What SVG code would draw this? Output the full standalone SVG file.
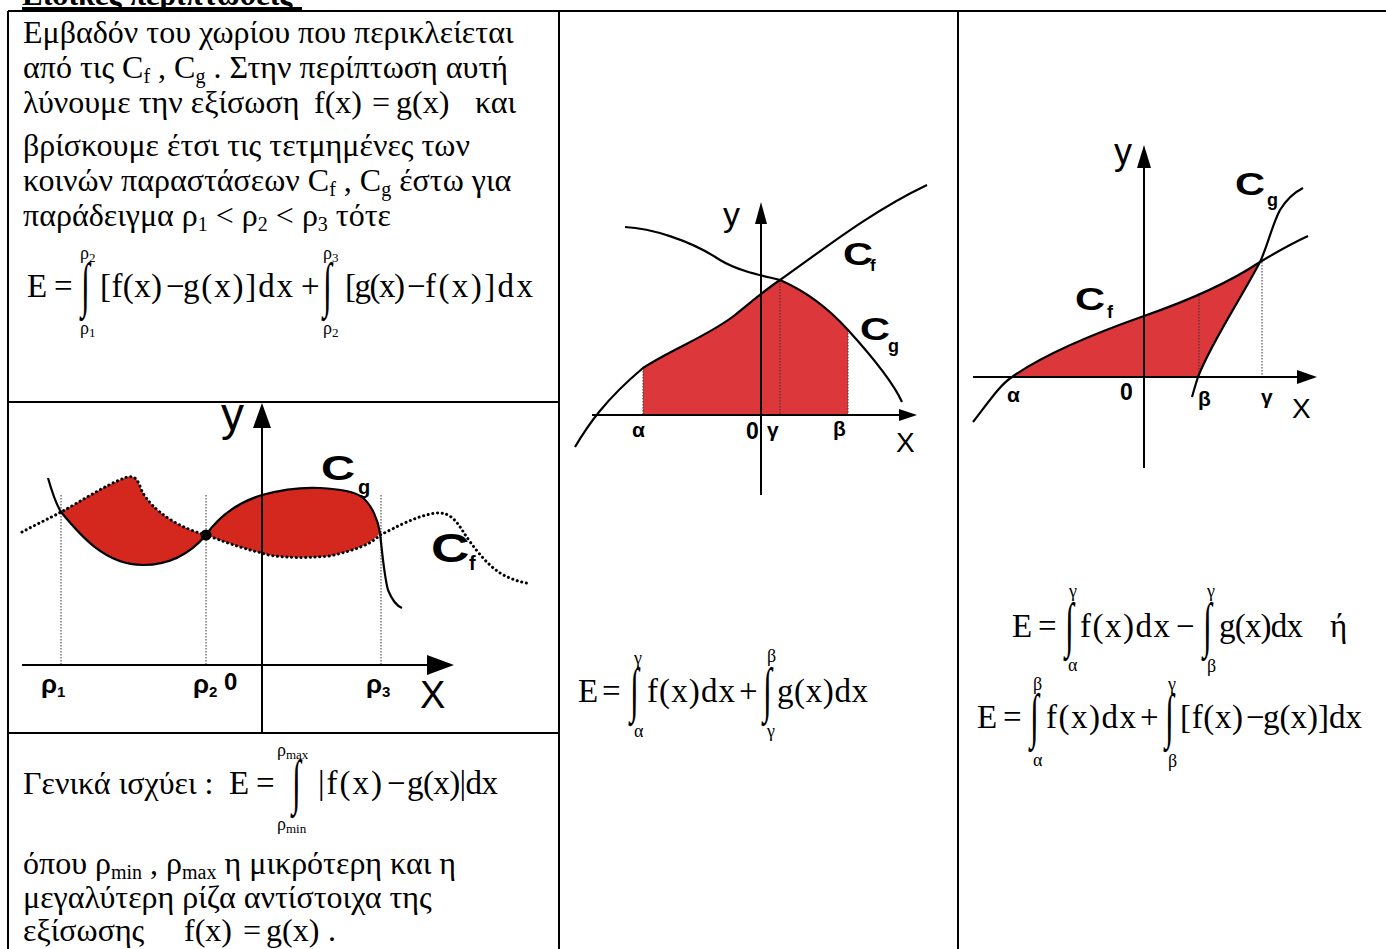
<svg xmlns="http://www.w3.org/2000/svg" width="1386" height="949" viewBox="0 0 1386 949">
<style>
.t{font-family:"Liberation Serif","Times New Roman",serif;font-size:32px;fill:#000}
.m{font-family:"Liberation Serif","Times New Roman",serif;font-size:33px;fill:#000}
.lim{font-family:"Liberation Serif","Times New Roman",serif;font-size:18px;fill:#000}
.int{font-family:"Liberation Serif","Times New Roman",serif;font-size:32px;fill:#000}
.sub{font-size:20px}
.title{font-family:"Liberation Serif","Times New Roman",serif;font-size:31px;font-weight:bold;fill:#000}
.grid{stroke:#000;stroke-width:2;fill:none}
.axis{stroke:#000;stroke-width:2;fill:none}
.curve{stroke:#000;stroke-width:2.2;fill:none}
.dots{stroke:#000;stroke-width:3;fill:none;stroke-dasharray:0.1 4.6;stroke-linecap:round}
.guide{stroke:#333;stroke-width:1;fill:none;stroke-dasharray:1.5 1.5}
.ax{font-family:"Liberation Sans",Arial,sans-serif;fill:#000}
.lb{font-family:"Liberation Sans",Arial,sans-serif;font-weight:bold;fill:#000}
.red1{fill:#d4281f}
.red2{fill:#dc383c}
</style>

<g id="title">
<text class="title" x="22" y="5">Ειδικές περιπτώσεις</text>
<rect x="22" y="7" width="280" height="3" fill="#000"/>
</g>

<g id="table" class="grid">
<line x1="8" y1="11" x2="1386" y2="11"/>
<line x1="8" y1="11" x2="8" y2="949"/>
<line x1="559" y1="11" x2="559" y2="949"/>
<line x1="958" y1="11" x2="958" y2="949"/>
<line x1="8" y1="402" x2="559" y2="402"/>
<line x1="8" y1="733" x2="559" y2="733"/>
</g>

<g id="text-top">
<text class="t" x="23" y="43">Εμβαδόν του χωρίου που περικλείεται</text>
<text class="t" x="23" y="78">από τις C<tspan class="sub" dy="5">f</tspan><tspan dy="-5"> , C</tspan><tspan class="sub" dy="5">g</tspan><tspan dy="-5"> . Στην περίπτωση αυτή</tspan></text>
<text class="t" x="23" y="113">λύνουμε την εξίσωση</text>
<text class="t" x="314" y="113">f(x)</text>
<text class="t" x="372" y="113">=</text>
<text class="t" x="396" y="113">g(x)</text>
<text class="t" x="475" y="113">και</text>
<text class="t" x="23" y="156">βρίσκουμε έτσι τις τετμημένες των</text>
<text class="t" x="23" y="191">κοινών παραστάσεων C<tspan class="sub" dy="5">f</tspan><tspan dy="-5"> , C</tspan><tspan class="sub" dy="5">g</tspan><tspan dy="-5"> έστω για</tspan></text>
<text class="t" x="23" y="226">παράδειγμα ρ<tspan class="sub" dy="5">1</tspan><tspan dy="-5"> &lt; ρ</tspan><tspan class="sub" dy="5">2</tspan><tspan dy="-5"> &lt; ρ</tspan><tspan class="sub" dy="5">3</tspan><tspan dy="-5"> τότε</tspan></text>
</g>

<g id="formula-top">
<text class="m" x="27" y="297">E</text>
<text class="m" x="54" y="297">=</text>
<text class="int" transform="translate(81,305) scale(1,1.9)">∫</text>
<text class="lim" x="80" y="259">ρ<tspan font-size="13" dy="3">2</tspan></text>
<text class="lim" x="80" y="334">ρ<tspan font-size="13" dy="3">1</tspan></text>
<text class="m" x="100" y="297" textLength="62">[f(x)</text>
<text class="m" x="166" y="297">−</text>
<text class="m" x="183" y="297" textLength="110">g(x)]dx</text>
<text class="m" x="301" y="297">+</text>
<text class="int" transform="translate(323,305) scale(1,1.9)">∫</text>
<text class="lim" x="323" y="259">ρ<tspan font-size="13" dy="3">3</tspan></text>
<text class="lim" x="323" y="334">ρ<tspan font-size="13" dy="3">2</tspan></text>
<text class="m" x="345" y="297" textLength="60">[g(x)</text>
<text class="m" x="407" y="297">−</text>
<text class="m" x="425" y="297" textLength="108">f(x)]dx</text>
</g>

<g id="graph-left">
<path class="red1" d="M61,512 C80,502 105,485 127,477 C131,476 134,477 136,479 C140,484 141,490 143,493 C147,500 155,510 171,520 C182,527 195,532 206,535 C195,548 175,565 143,565 C105,565 80,535 61,512 Z"/>
<path class="red1" d="M206,535 C215,522 230,505 262,495 C280,490 300,487 320,488 C340,489 355,492 362,497 C372,505 378,520 380,533 C370,545 355,550 330,556 C300,559 270,557 262,553 C240,548 220,540 206,535 Z"/>
<line class="guide" x1="61" y1="495" x2="61" y2="665"/>
<line class="guide" x1="206" y1="495" x2="206" y2="665"/>
<line class="guide" x1="381" y1="495" x2="381" y2="665"/>
<path class="curve" d="M48,478 C52,492 56,504 61,512 C80,535 105,565 143,565 C175,565 195,548 206,535 C215,522 230,505 262,495 C280,490 300,487 320,488 C340,489 355,492 362,497 C372,505 378,520 380,533 C382,550 384,575 388,590 C392,600 397,606 402,608"/>
<path class="dots" d="M22,532 C35,525 50,518 61,512 C80,502 105,485 127,477 C131,476 134,477 136,479 C140,484 141,490 143,493 C147,500 155,510 171,520 C182,527 195,532 206,535 C220,540 240,548 262,553 C270,557 300,559 330,556 C355,550 370,545 380,535 C395,528 415,516 436,513 C448,512 455,518 464,533 C472,545 485,563 500,573 C510,579 520,582 527,583"/>
<circle cx="206" cy="535" r="5.5" fill="#000"/>
<line class="axis" x1="22" y1="665" x2="440" y2="665" stroke-width="2.5"/>
<polygon points="454,665 427,655 427,675" fill="#000"/>
<line class="axis" x1="262" y1="425" x2="262" y2="732" stroke-width="2.5"/>
<polygon points="262,403 253,428 271,428" fill="#000"/>
<text class="ax" x="221" y="430" font-size="46">y</text>
<text class="ax" x="420" y="708" font-size="38">X</text>
<text class="lb" transform="translate(321,480) scale(1.35,1)" font-size="35">C</text>
<text class="lb" x="358" y="494" font-size="20">g</text>
<text class="lb" transform="translate(431,562) scale(1.3,1)" font-size="41">C</text>
<text class="lb" x="469" y="570" font-size="20">f</text>
<text class="lb" x="41" y="693" font-size="26">ρ<tspan font-size="15" dy="4">1</tspan></text>
<text class="lb" x="193" y="693" font-size="26">ρ<tspan font-size="15" dy="4">2</tspan></text>
<text class="lb" x="224" y="690" font-size="24">0</text>
<text class="lb" x="366" y="693" font-size="26">ρ<tspan font-size="15" dy="4">3</tspan></text>
</g>

<g id="text-bottom">
<text class="t" x="23" y="794">Γενικά ισχύει :</text>
<text class="m" x="229" y="794">E</text>
<text class="m" x="256" y="794">=</text>
<text class="int" transform="translate(292,802) scale(1,1.9)">∫</text>
<text class="lim" x="277" y="756">ρ<tspan font-size="13" dy="3">max</tspan></text>
<text class="lim" x="277" y="830">ρ<tspan font-size="13" dy="3">min</tspan></text>
<text class="m" x="318" y="794" textLength="64">|f(x)</text>
<text class="m" x="387" y="794">−</text>
<text class="m" x="407" y="794" textLength="91">g(x)|dx</text>
<text class="t" x="23" y="874">όπου ρ<tspan class="sub" dy="5">min</tspan><tspan dy="-5"> , ρ</tspan><tspan class="sub" dy="5">max</tspan><tspan dy="-5"> η μικρότερη και η</tspan></text>
<text class="t" x="23" y="908">μεγαλύτερη ρίζα αντίστοιχα της</text>
<text class="t" x="23" y="941">εξίσωσης</text>
<text class="t" x="184" y="941">f(x)</text>
<text class="t" x="243" y="941">=</text>
<text class="t" x="266" y="941">g(x)</text>
<text class="t" x="328" y="941">.</text>
</g>

<g id="graph-middle">
<path class="red2" d="M643,415 L643,368 C670,350 710,335 735,315 C750,303 765,290 780,280 C810,293 830,310 848,330 L848,415 Z"/>
<line class="guide" x1="643" y1="368" x2="643" y2="415"/>
<line class="guide" x1="780" y1="280" x2="780" y2="415"/>
<line class="guide" x1="848" y1="330" x2="848" y2="415"/>
<path class="curve" d="M575,447 C588,425 605,400 643,368 C670,350 710,335 735,315 C750,303 765,290 780,280 C820,252 870,212 927,185"/>
<path class="curve" d="M625,227 C650,228 690,240 720,260 C740,272 765,276 780,280 C810,293 830,310 848,330 C868,352 892,380 902,402"/>
<line class="axis" x1="592" y1="415" x2="905" y2="415"/>
<polygon points="917,415 899,409 899,421" fill="#000"/>
<line class="axis" x1="761" y1="222" x2="761" y2="495"/>
<polygon points="761,202 755,224 767,224" fill="#000"/>
<text class="ax" x="723" y="226" font-size="34">y</text>
<text class="ax" x="896" y="452" font-size="28">X</text>
<text class="lb" x="632" y="437" font-size="21">α</text>
<text class="lb" x="746" y="439" font-size="23">0</text>
<text class="lb" x="767" y="437" font-size="21">γ</text>
<text class="lb" x="833" y="436" font-size="21">β</text>
<text class="lb" transform="translate(843,265) scale(1.3,1)" font-size="32">C</text>
<text class="lb" x="870" y="271" font-size="17">f</text>
<text class="lb" transform="translate(860,340) scale(1.3,1)" font-size="32">C</text>
<text class="lb" x="888" y="352" font-size="18">g</text>
</g>

<g id="formula-middle">
<text class="m" x="578" y="702">E</text>
<text class="m" x="602" y="702">=</text>
<text class="int" transform="translate(630,710) scale(1,1.9)">∫</text>
<text class="lim" x="634" y="664">γ</text>
<text class="lim" x="634" y="737">α</text>
<text class="m" x="647" y="702" textLength="88">f(x)dx</text>
<text class="m" x="739" y="702">+</text>
<text class="int" transform="translate(763,710) scale(1,1.9)">∫</text>
<text class="lim" x="767" y="662">β</text>
<text class="lim" x="767" y="737">γ</text>
<text class="m" x="777" y="702" textLength="91">g(x)dx</text>
</g>

<g id="graph-right">
<path class="red2" d="M1012,377 C1040,357 1090,335 1144,316 C1190,300 1230,282 1260,262 C1240,300 1210,345 1198,377 Z"/>
<line class="guide" x1="1199" y1="293" x2="1199" y2="377"/>
<line class="guide" x1="1262" y1="262" x2="1262" y2="377"/>
<path class="curve" d="M973,422 C990,400 1000,385 1012,377 C1040,357 1090,335 1144,316 C1190,300 1230,282 1260,262 C1280,250 1295,242 1308,236"/>
<path class="curve" d="M1192,397 C1194,390 1196,383 1198,377 C1210,345 1240,300 1260,262 C1268,245 1272,225 1280,210 C1288,197 1295,192 1303,188"/>
<line class="axis" x1="973" y1="377" x2="1300" y2="377"/>
<polygon points="1317,377 1297,370 1297,384" fill="#000"/>
<line class="axis" x1="1144" y1="167" x2="1144" y2="468"/>
<polygon points="1144,145 1137,168 1151,168" fill="#000"/>
<text class="ax" x="1114" y="164" font-size="36">y</text>
<text class="ax" x="1292" y="418" font-size="28">X</text>
<text class="lb" x="1007" y="402" font-size="21">α</text>
<text class="lb" x="1120" y="400" font-size="23">0</text>
<text class="lb" x="1198" y="406" font-size="21">β</text>
<text class="lb" x="1261" y="404" font-size="21">γ</text>
<text class="lb" transform="translate(1075,310) scale(1.3,1)" font-size="32">C</text>
<text class="lb" x="1107" y="318" font-size="18">f</text>
<text class="lb" transform="translate(1235,195) scale(1.3,1)" font-size="32">C</text>
<text class="lb" x="1267" y="206" font-size="18">g</text>
</g>

<g id="formula-right">
<text class="m" x="1012" y="637">E</text>
<text class="m" x="1038" y="637">=</text>
<text class="int" transform="translate(1065,645) scale(1,1.9)">∫</text>
<text class="lim" x="1069" y="597">γ</text>
<text class="lim" x="1068" y="671">α</text>
<text class="m" x="1080" y="637" textLength="90">f(x)dx</text>
<text class="m" x="1176" y="637">−</text>
<text class="int" transform="translate(1203,645) scale(1,1.9)">∫</text>
<text class="lim" x="1207" y="597">γ</text>
<text class="lim" x="1207" y="672">β</text>
<text class="m" x="1219" y="637" textLength="84">g(x)dx</text>
<text class="m" x="1330" y="637">ή</text>
<text class="m" x="977" y="728">E</text>
<text class="m" x="1003" y="728">=</text>
<text class="int" transform="translate(1030,736) scale(1,1.9)">∫</text>
<text class="lim" x="1033" y="690">β</text>
<text class="lim" x="1033" y="766">α</text>
<text class="m" x="1046" y="728" textLength="90">f(x)dx</text>
<text class="m" x="1140" y="728">+</text>
<text class="int" transform="translate(1165,736) scale(1,1.9)">∫</text>
<text class="lim" x="1168" y="690">γ</text>
<text class="lim" x="1168" y="767">β</text>
<text class="m" x="1180" y="728" textLength="63">[f(x)</text>
<text class="m" x="1246" y="728">−</text>
<text class="m" x="1263" y="728" textLength="99">g(x)]dx</text>
</g>
</svg>
